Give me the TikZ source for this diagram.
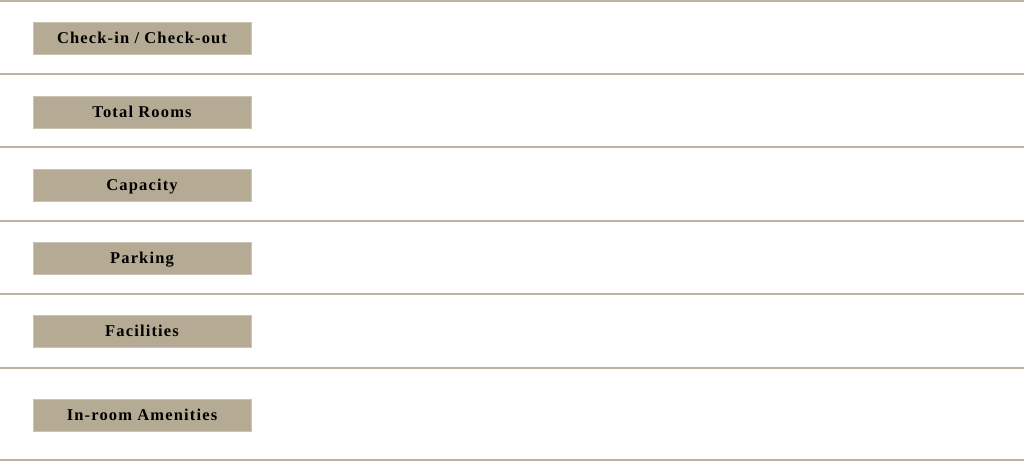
\documentclass[tikz,border=0pt]{standalone}
\usepackage{fontspec}
\setmainfont{Liberation Serif}
\usetikzlibrary{positioning}
\definecolor{sand}{HTML}{B5AA93}
\definecolor{rule}{HTML}{BDB49F}
\begin{document}
\begin{tikzpicture}[x=1pt,y=-1pt,
    labelbox/.style={rectangle, fill=sand, draw=sand!70!white, line width=0.6pt, minimum width=218pt, minimum height=32pt, inner sep=0pt, text height=12.5pt, text depth=1.5pt, font=\addfontfeature{LetterSpace=7}\bfseries\fontsize{16.5}{18}\selectfont},
    sepline/.style={draw=rule, line width=1.8pt}]
            \useasboundingbox (0,0) rectangle (1024,461);
            %Separators
            \foreach \y in {1,74,147,221,294,368,460}
                \draw[sepline] (0,\y) -- (1024,\y);
            %Nodes
            \node[labelbox] (checkin)    at (142,38)  {Check-in / Check-out};
            \node[labelbox] (rooms)      at (142,112) {Total Rooms};
            \node[labelbox] (capacity)   at (142,185) {Capacity};
            \node[labelbox] (parking)    at (142,258) {Parking};
            \node[labelbox] (facilities) at (142,331) {Facilities};
            \node[labelbox] (amenities)  at (142,415) {In-room Amenities};
        \end{tikzpicture}
\end{document}
